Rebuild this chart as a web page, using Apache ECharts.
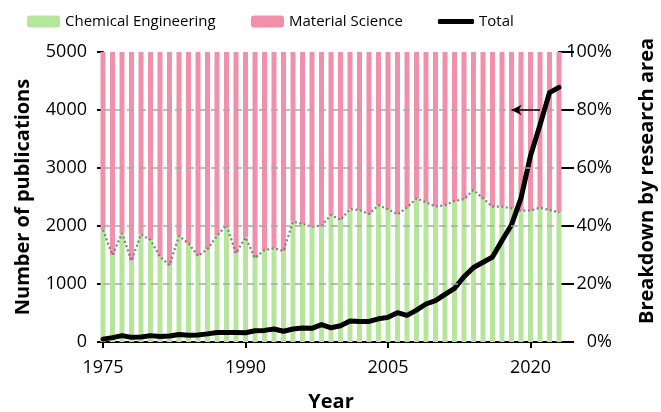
<!DOCTYPE html>
<html>
<head>
<meta charset="utf-8">
<script src="https://cdn.jsdelivr.net/npm/echarts@6/dist/echarts.min.js"></script>
<style>
  html, body { margin: 0; padding: 0; background: #fff; }
  #chart { width: 661px; height: 412px; }
</style>
</head>
<body>
<div id="chart"></div>
<script>
const years = [
  '1975', '1976', '1977', '1978', '1979', '1980', '1981', '1982', '1983', '1984',
  '1985', '1986', '1987', '1988', '1989', '1990', '1991', '1992', '1993', '1994',
  '1995', '1996', '1997', '1998', '1999', '2000', '2001', '2002', '2003', '2004',
  '2005', '2006', '2007', '2008', '2009', '2010', '2011', '2012', '2013', '2014',
  '2015', '2016', '2017', '2018', '2019', '2020', '2021', '2022', '2023'
]
// share of chemical engineering (%)
const chemShare = [
  38.6, 30.0, 37.5, 28.0, 37.1, 35.2, 29.4, 26.5, 36.6, 34.0,
  29.7, 32.0, 36.6, 40.3, 30.6, 36.1, 29.0, 31.7, 32.3, 31.4,
  41.5, 40.7, 39.8, 40.1, 43.8, 42.1, 45.8, 45.5, 44.1, 47.2,
  45.8, 44.0, 46.4, 49.5, 48.2, 46.7, 47.2, 48.6, 49.3, 52.4,
  49.5, 46.7, 46.7, 46.1, 45.3, 45.3, 46.3, 45.5, 44.7
]
// share of material science (%)
const matShare = [
  61.4, 70.0, 62.5, 72.0, 62.9, 64.8, 70.6, 73.5, 63.4, 66.0,
  70.3, 68.0, 63.4, 59.7, 69.4, 63.9, 71.0, 68.3, 67.7, 68.6,
  58.5, 59.3, 60.2, 59.9, 56.2, 57.9, 54.2, 54.5, 55.9, 52.8,
  54.2, 56.0, 53.6, 50.5, 51.8, 53.3, 52.8, 51.4, 50.7, 47.6,
  50.5, 53.3, 53.3, 53.9, 54.7, 54.7, 53.7, 54.5, 55.3
]
const totalPubs = [
  50, 75, 110, 80, 85, 110, 95, 105, 130, 115,
  120, 140, 165, 165, 165, 160, 195, 200, 225, 185,
  225, 240, 235, 300, 245, 280, 360, 355, 355, 400,
  425, 505, 460, 550, 655, 715, 820, 925, 1125, 1285,
  1375, 1465, 1750, 2020, 2480, 3210, 3740, 4300, 4390
]
// dashed guide lines drawn over the bars (percent axis)
const guideLevels = [20, 40, 60, 80]

const chart = echarts.init(document.getElementById('chart'))
const font = "'Open Sans', 'Noto Sans', sans-serif"

const legendText = { color: '#000', fontSize: 15, fontFamily: font }
const titleStyle = { fontSize: 20, fontWeight: 'bold', color: '#000' }

const option = {
  animation: false,
  textStyle: { fontFamily: font, color: '#000' },
  legend: [
    {
      left: 27, top: 14, padding: 0, itemWidth: 33, itemHeight: 12, itemGap: 0,
      data: ['Chemical Engineering'], textStyle: legendText
    },
    {
      left: 251, top: 14, padding: 0, itemWidth: 33, itemHeight: 12, itemGap: 0,
      data: ['Material Science'], textStyle: legendText
    },
    {
      left: 438, top: 14, padding: 0, itemWidth: 36, itemHeight: 5, itemGap: 0,
      data: [{ name: 'Total', icon: 'roundRect' }], textStyle: legendText
    }
  ],
  grid: { left: 103, right: 102, top: 52, bottom: 70, outerBoundsMode: 'none' },
  xAxis: {
    type: 'category',
    data: years,
    boundaryGap: false,
    name: 'Year',
    nameLocation: 'middle',
    nameGap: 50,
    nameTextStyle: titleStyle,
    axisLine: { lineStyle: { color: '#000', width: 2 } },
    axisTick: { interval: 14, length: 6, lineStyle: { color: '#000', width: 2 } },
    axisLabel: { interval: 14, fontSize: 18, color: '#000', margin: 17 },
    splitLine: { show: false }
  },
  yAxis: [
    {
      type: 'value',
      min: 0,
      max: 5000,
      interval: 1000,
      name: 'Number of publications',
      nameLocation: 'middle',
      nameGap: 70,
      nameTextStyle: titleStyle,
      axisLine: { show: true, lineStyle: { color: '#000', width: 2 } },
      axisTick: { show: true, length: 6, lineStyle: { color: '#000', width: 2 } },
      axisLabel: { fontSize: 18, color: '#000', margin: 16, formatter: v => String(v) },
      splitLine: { show: false }
    },
    {
      type: 'value',
      min: 0,
      max: 100,
      interval: 20,
      position: 'right',
      name: 'Breakdown by research area',
      nameLocation: 'middle',
      nameGap: 78,
      nameTextStyle: Object.assign({ padding: [0, 0, 0, 32] }, titleStyle),
      axisLine: { show: true, lineStyle: { color: '#000', width: 2 } },
      axisTick: { show: true, length: 15, lineStyle: { color: '#000', width: 2 } },
      axisLabel: {
        fontSize: 18, color: '#000', margin: 53, align: 'right',
        formatter: '{value}%'
      },
      splitLine: { show: false }
    }
  ],
  series: [
    {
      name: 'Chemical Engineering',
      type: 'bar',
      stack: 'share',
      yAxisIndex: 1,
      barWidth: 5,
      itemStyle: { color: '#b6e59c' },
      data: chemShare,
      markLine: {
        silent: true,
        symbol: 'none',
        label: { show: false },
        lineStyle: { color: '#a8a8a8', type: [7, 5], width: 1.5 },
        data: guideLevels.map(v => ({ yAxis: v }))
      }
    },
    {
      name: 'Material Science',
      type: 'bar',
      stack: 'share',
      yAxisIndex: 1,
      barWidth: 5,
      itemStyle: { color: '#f190ab' },
      data: matShare
    },
    {
      name: 'share line',
      type: 'line',
      yAxisIndex: 1,
      symbol: 'none',
      lineStyle: { color: '#808080', width: 2.2, type: [2, 2.5] },
      data: chemShare,
      z: 3
    },
    {
      name: 'Total',
      type: 'line',
      yAxisIndex: 0,
      symbol: 'none',
      itemStyle: { color: '#000' },
      lineStyle: { color: '#000', width: 5, cap: 'round', join: 'round' },
      data: totalPubs,
      z: 4,
      markLine: {
        silent: true,
        symbol: ['none', 'arrow'],
        symbolSize: [8, 10],
        label: { show: false },
        lineStyle: { color: '#000', width: 1.5, type: 'solid' },
        data: [[{ coord: [45.7, 4000] }, { coord: [42.5, 4000] }]]
      }
    }
  ]
}

chart.setOption(option)
</script>
</body>
</html>
